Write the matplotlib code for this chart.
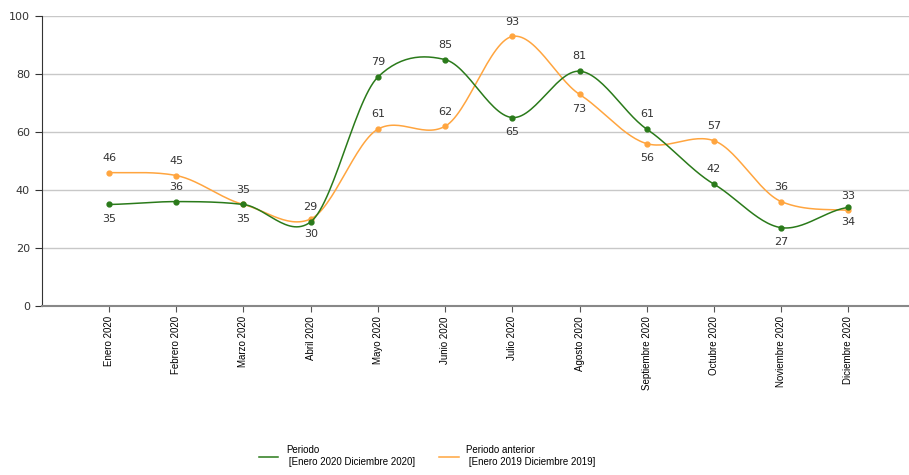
from matplotlib import pyplot as plt
import numpy as np

months = ["Enero 2020", "Febrero 2020", "Marzo 2020", "Abril 2020", "Mayo 2020", "Junio 2020",
          "Julio 2020", "Agosto 2020", "Septiembre 2020", "Octubre 2020", "Noviembre 2020",
          "Diciembre 2020"]
periodo = [35, 36, 35, 29, 79, 85, 65, 81, 61, 42, 27, 34]
periodo_anterior = [46, 45, 35, 30, 61, 62, 93, 73, 56, 57, 36, 33]
# label placement: 1 = above, -1 = below
pos_periodo = [-1, 1, -1, 1, 1, 1, -1, 1, 1, 1, -1, -1]
pos_anterior = [1, 1, 1, -1, 1, 1, 1, -1, -1, 1, 1, 1]

green = '#2a7a1a'
orange = '#ffa53f'


def spline(y, tension=0.8, n=30):
    # cardinal spline through the points
    y = np.asarray(y, dtype=float)
    x = np.arange(len(y), dtype=float)
    m = np.zeros_like(y)
    m[1:-1] = (y[2:] - y[:-2]) / 2 * tension
    m[0] = (y[1] - y[0]) * tension * 0.5
    m[-1] = (y[-1] - y[-2]) * tension * 0.5
    xs, ys = [], []
    for i in range(len(y) - 1):
        t = np.linspace(0, 1, n)
        h00 = 2*t**3 - 3*t**2 + 1
        h10 = t**3 - 2*t**2 + t
        h01 = -2*t**3 + 3*t**2
        h11 = t**3 - t**2
        xs.append(x[i] + t)
        ys.append(h00*y[i] + h10*m[i] + h01*y[i+1] + h11*m[i+1])
    return np.concatenate(xs), np.concatenate(ys)


fig = plt.figure(figsize=(9.09, 4.75), dpi=100)
ax = fig.add_axes([0.046, 0.356, 0.954, 0.61])

x = np.arange(len(months))
for vals, pos, col, lab in [
        (periodo_anterior, pos_anterior, orange, "Periodo anterior\n [Enero 2019 Diciembre 2019]"),
        (periodo, pos_periodo, green, "Periodo\n [Enero 2020 Diciembre 2020]")]:
    sx, sy = spline(vals)
    ax.plot(sx, sy, color=col, lw=1.1, label=lab)
    ax.plot(x, vals, 'o', color=col, ms=3.5)
    for xi, v, p in zip(x, vals, pos):
        ax.annotate(str(v), (xi, v), xytext=(0, 7 * p), textcoords='offset points',
                    ha='center', va='bottom' if p > 0 else 'top', fontsize=8, color='#333333')

ax.set_xlim(-1, 11.9)
ax.set_ylim(0, 100)
ax.set_yticks([0, 20, 40, 60, 80, 100])
ax.set_xticks(x)
ax.set_xticklabels(months, rotation=90, fontsize=7, family='Liberation Sans')
ax.tick_params(axis='y', labelsize=8, colors='#333333', length=5)
ax.tick_params(axis='x', length=4, color='#555555')
ax.grid(axis='y', color='#c8c8c8', lw=1)
ax.set_axisbelow(True)
ax.spines['top'].set_visible(False)
ax.spines['right'].set_visible(False)
ax.spines['left'].set_color('#333333')
ax.spines['bottom'].set_color('#888888')
ax.spines['bottom'].set_linewidth(1.5)

handles, labels = ax.get_legend_handles_labels()
fig.legend(handles[::-1], labels[::-1], loc='center', bbox_to_anchor=(0.47, 0.04), ncol=2,
           frameon=False, fontsize=7, prop={'family': 'Liberation Sans', 'size': 7},
           handlelength=2, columnspacing=2.5)

plt.savefig("out.png", dpi=100)
